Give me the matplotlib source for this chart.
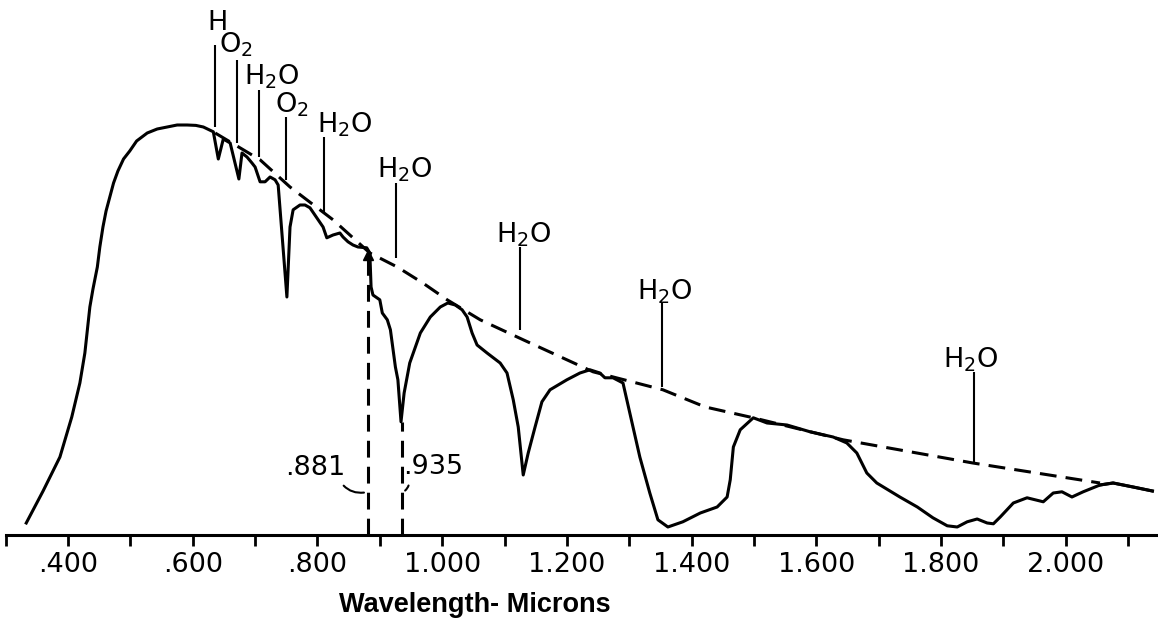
import matplotlib
matplotlib.use('Agg')
from matplotlib import pyplot as plt
import numpy as np

# solar spectrum at ground level (wavelength in microns,
# relative irradiance, arbitrary units)
wl = [0.333, 0.360, 0.387, 0.406, 0.419, 0.427, 0.435, 0.440, 0.447, 0.451,
      0.456, 0.461, 0.467, 0.473, 0.480, 0.489, 0.499, 0.510, 0.527, 0.543,
      0.559, 0.575, 0.591, 0.605, 0.617, 0.633, 0.641, 0.649, 0.660,
      0.674, 0.679, 0.687, 0.695, 0.700, 0.708, 0.716, 0.724, 0.732, 0.737,
      0.751, 0.756, 0.761, 0.772, 0.780, 0.788, 0.799, 0.809, 0.815, 0.825,
      0.836, 0.841, 0.849, 0.857, 0.865, 0.879, 0.884, 0.886, 0.889, 0.900,
      0.904, 0.912, 0.917, 0.925, 0.929, 0.934, 0.939, 0.948, 0.965, 0.981,
      0.997, 1.009, 1.021, 1.032, 1.040, 1.048, 1.056, 1.072, 1.093, 1.104,
      1.114, 1.122, 1.130, 1.138, 1.149, 1.160, 1.173, 1.200, 1.221, 1.237,
      1.253, 1.261, 1.274, 1.290, 1.301, 1.317, 1.333, 1.346, 1.362, 1.386,
      1.414, 1.441, 1.457, 1.462, 1.467, 1.478, 1.499, 1.521, 1.553, 1.590,
      1.627, 1.649, 1.665, 1.681, 1.697, 1.734, 1.762, 1.787, 1.810, 1.826,
      1.842, 1.858, 1.874, 1.884, 1.895, 1.916, 1.938, 1.964, 1.980, 1.994,
      2.010, 2.028, 2.055, 2.076, 2.108, 2.139]
irr = [0.03, 0.11, 0.195, 0.295, 0.38, 0.455, 0.57, 0.615, 0.67, 0.72,
       0.77, 0.81, 0.845, 0.88, 0.91, 0.94, 0.96, 0.985, 1.005, 1.015,
       1.02, 1.025, 1.025, 1.024, 1.02, 1.008, 0.94, 0.99, 0.98,
       0.89, 0.955, 0.945, 0.93, 0.92, 0.883, 0.883, 0.895, 0.888, 0.875,
       0.595, 0.77, 0.813, 0.825, 0.825, 0.818, 0.793, 0.77, 0.743, 0.75,
       0.755, 0.745, 0.733, 0.725, 0.72, 0.718, 0.705, 0.62, 0.60, 0.588,
       0.555, 0.538, 0.513, 0.42, 0.388, 0.283, 0.355, 0.43, 0.505, 0.545,
       0.57, 0.58, 0.575, 0.563, 0.545, 0.505, 0.475, 0.455, 0.43, 0.405,
       0.338, 0.27, 0.15, 0.205, 0.27, 0.333, 0.363, 0.388, 0.405, 0.413,
       0.405, 0.393, 0.393, 0.38, 0.305, 0.195, 0.105, 0.038, 0.02, 0.033,
       0.055, 0.07, 0.095, 0.138, 0.22, 0.263, 0.293, 0.28, 0.275, 0.258,
       0.245, 0.23, 0.205, 0.155, 0.13, 0.095, 0.07, 0.043, 0.023, 0.02,
       0.033, 0.04, 0.03, 0.028, 0.045, 0.08, 0.093, 0.083, 0.105, 0.108,
       0.095, 0.108, 0.125, 0.13, 0.12, 0.11]

# unattenuated envelope (dashed)
env_wl = [0.636, 0.708, 0.756, 0.825, 0.884, 0.928, 0.969, 1.008, 1.061,
          1.130, 1.242, 1.354, 1.422, 1.499, 1.643, 1.851, 2.055]
env_irr = [1.005, 0.938, 0.87, 0.788, 0.705, 0.67, 0.63, 0.588, 0.538,
           0.488, 0.408, 0.363, 0.32, 0.293, 0.238, 0.18, 0.13]

# absorption band markers
band_wl = [0.636, 0.671, 0.706, 0.750, 0.811, 0.926, 1.125, 1.353, 1.853]
band_top = [1.225, 1.188, 1.113, 1.045, 0.995, 0.88, 0.72, 0.58, 0.408]
band_bot = [1.02, 0.98, 0.945, 0.888, 0.805, 0.693, 0.513, 0.37, 0.18]
band_names = ['H', r'O$_2$', r'H$_2$O', r'O$_2$', r'H$_2$O', r'H$_2$O',
              r'H$_2$O', r'H$_2$O', r'H$_2$O']
name_wl = [0.639, 0.669, 0.727, 0.759, 0.843, 0.940, 1.130, 1.357, 1.847]
name_y = [1.28, 1.225, 1.145, 1.075, 1.025, 0.913, 0.75, 0.608, 0.438]

ticks = np.round(np.arange(0.3, 2.15, 0.1), 1)
tick_labels = ['', '.400', '', '.600', '', '.800', '', '1.000', '', '1.200',
               '', '1.400', '', '1.600', '', '1.800', '', '2.000', '']

fig = plt.figure(figsize=(11.58, 6.21), dpi=100)
ax = fig.add_axes([0.0049, 0.1385, 0.9951, 0.8615])

ax.plot(wl, irr, color='black', lw=2.2, solid_joinstyle='round')
ax.plot(env_wl, env_irr, color='black', lw=2.2, dashes=(5.5, 3))
ax.plot(wl[-4:], irr[-4:], color='black', lw=2.2)

ax.vlines(band_wl, band_bot, band_top, color='black', lw=1.5)
for name, x, y in zip(band_names, name_wl, name_y):
    ax.text(x, y, name, fontsize=19.5, ha='center', va='center')

# .881 and .935 markers
ax.vlines([0.881, 0.935], 0, [0.712, 0.283], color='black', lw=2.2,
          linestyles=(0, (5.5, 3)))
ax.plot([0.881], [0.70], marker='^', color='black', markersize=7)
ax.annotate('.881', xy=(0.879, 0.107), xytext=(0.796, 0.168), fontsize=19.5,
            ha='center', va='center',
            arrowprops=dict(arrowstyle='-', lw=1.5, relpos=(0.9, 0.05),
                            connectionstyle='arc3,rad=0.35'))
ax.annotate('.935', xy=(0.937, 0.107), xytext=(0.985, 0.17), fontsize=19.5,
            ha='center', va='center',
            arrowprops=dict(arrowstyle='-', lw=1.5, relpos=(0.1, 0.05),
                            connectionstyle='arc3,rad=-0.35'))

ax.set_xlim(0.3, 2.148)
ax.set_ylim(0, 1.3375)
ax.set_xticks(ticks)
ax.set_xticklabels(tick_labels, fontsize=19.5)
ax.set_yticks([])
ax.tick_params(axis='x', direction='out', length=8, width=2, pad=4)
for s in ['left', 'right', 'top']:
    ax.spines[s].set_visible(False)
ax.spines['bottom'].set_linewidth(2.2)

fig.text(0.41, 0.026, 'Wavelength- Microns', fontsize=19.5, fontweight='bold',
         family='Liberation Sans', ha='center', va='center')

fig.savefig('out.png', dpi=100)
